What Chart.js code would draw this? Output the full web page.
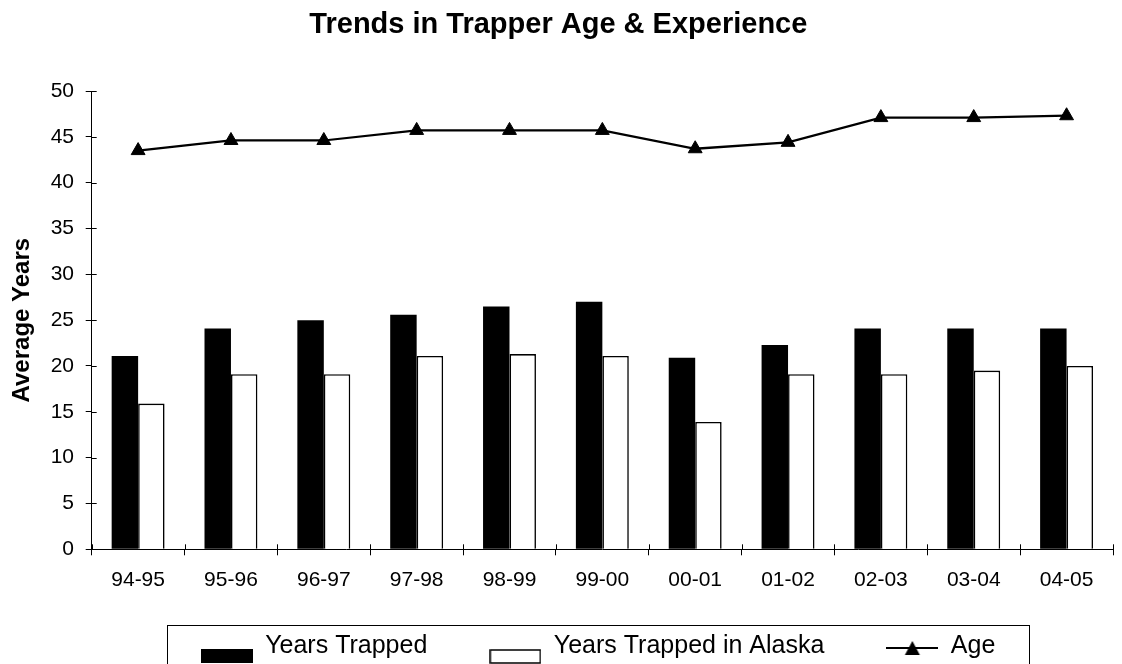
<!DOCTYPE html>
<html>
<head>
<meta charset="utf-8">
<script src="https://cdn.jsdelivr.net/npm/chart.js@4.4.1/dist/chart.umd.min.js"></script>
<style>
  html, body { margin: 0; padding: 0; background: #fff; overflow: hidden; }
  #frame { width: 1122px; height: 664px; overflow: hidden; }
  #wrap { width: 1122px; height: 702px; }
</style>
</head>
<body>
<div id="frame"><div id="wrap"><canvas id="chart"></canvas></div></div>
<script>
// ---- data ----
const seasons = ['94-95', '95-96', '96-97', '97-98', '98-99', '99-00', '00-01', '01-02', '02-03', '03-04', '04-05'];
const yearsTrapped = [21.1, 24.1, 25.0, 25.6, 26.5, 27.0, 20.9, 22.3, 24.1, 24.1, 24.1];
const yearsTrappedAlaska = [15.9, 19.1, 19.1, 21.1, 21.3, 21.1, 13.9, 19.1, 19.1, 19.5, 20.0];
const trapperAge = [43.5, 44.6, 44.6, 45.7, 45.7, 45.7, 43.7, 44.4, 47.1, 47.1, 47.3];
const yMax = 50;
const yStep = 5;

const FONT = "'Liberation Sans', Arial, sans-serif";
const LEGEND_FONT = 25;
const LEGEND_GAP = 62;
const LEGEND_CENTER = 598;   // the Excel legend sits a bit right of the page centre
const LEGEND_DROP = 22.2;    // legend top, measured from the x axis line

// legend icons (Excel style: swatch sits low, beside the text baseline)
function makeIcon(kind) {
  const c = document.createElement('canvas');
  c.width = 52; c.height = 40;
  const g = c.getContext('2d');
  if (kind === 'solid') {
    g.fillStyle = '#000';
    g.fillRect(0, 23, 52, 14);
  } else if (kind === 'hollow') {
    g.fillStyle = '#fff';
    g.strokeStyle = '#000';
    g.lineWidth = 1.5;
    g.fillRect(1, 24, 50, 13);
    g.strokeRect(1, 24, 50, 13);
  } else {
    g.strokeStyle = '#000';
    g.lineWidth = 2;
    g.beginPath(); g.moveTo(0, 22); g.lineTo(52, 22); g.stroke();
    g.fillStyle = '#000';
    g.beginPath(); g.moveTo(26, 15); g.lineTo(33.5, 29); g.lineTo(18.5, 29); g.closePath(); g.fill();
  }
  return c;
}
const icons = {
  'Years Trapped': makeIcon('solid'),
  'Years Trapped in Alaska': makeIcon('hollow'),
  'Age': makeIcon('line')
};

// move the legend block (it overlaps the empty band under the axis labels) and frame it
const legendBox = {
  id: 'legendBox',
  afterLayout(chart) {
    const lg = chart.legend;
    const shift = LEGEND_CENTER - (lg.left + lg.right) / 2;
    lg.left += shift;
    lg.right += shift;
    lg.top = chart.chartArea.bottom + LEGEND_DROP;
    lg.bottom = lg.top + lg.height;
  },
  afterDraw(chart) {
    const lg = chart.legend;
    const p = LEGEND_GAP;
    const start = (lg.left + p + lg.right - lg.lineWidths[0]) / 2;
    const end = start + lg.lineWidths[0] - p;
    const left = Math.round(start - 34) + 0.5;
    const right = Math.round(end + 34) + 0.5;
    const top = Math.round(lg.top + p - 8.5) + 0.5;
    const ctx = chart.ctx;
    ctx.save();
    ctx.strokeStyle = '#000';
    ctx.lineWidth = 1;
    ctx.strokeRect(left, top, right - left, 80);
    ctx.restore();
  }
};

// Excel tick marks cross the axis line; add the inner half
const crossTicks = {
  id: 'crossTicks',
  afterDraw(chart) {
    const { ctx, chartArea, scales } = chart;
    ctx.save();
    ctx.strokeStyle = '#000';
    ctx.lineWidth = 1;
    ctx.beginPath();
    scales.y.ticks.forEach((t, i) => {
      const y = Math.round(scales.y.getPixelForTick(i)) + 0.5;
      ctx.moveTo(chartArea.left, y);
      ctx.lineTo(chartArea.left + 5, y);
    });
    for (let i = 0; i <= seasons.length; i++) {
      const x = Math.round(scales.x.getPixelForValue(i - 0.5)) + 0.5;
      ctx.moveTo(x, chartArea.bottom);
      ctx.lineTo(x, chartArea.bottom - 5);
    }
    ctx.stroke();
    ctx.restore();
  }
};

const ctx = document.getElementById('chart').getContext('2d');
new Chart(ctx, {
  type: 'bar',
  data: {
    labels: seasons,
    datasets: [
      {
        type: 'line',
        label: 'Age',
        data: trapperAge,
        borderColor: '#000',
        backgroundColor: '#000',
        borderWidth: 2.25,
        pointStyle: 'triangle',
        pointRadius: 8,
        pointHoverRadius: 8,
        pointBorderWidth: 1,
        tension: 0,
        order: 0
      },
      {
        label: 'Years Trapped',
        data: yearsTrapped,
        backgroundColor: '#000',
        borderColor: '#000',
        borderWidth: 0,
        categoryPercentage: 0.57,
        barPercentage: 1.0,
        order: 1
      },
      {
        label: 'Years Trapped in Alaska',
        data: yearsTrappedAlaska,
        backgroundColor: '#fff',
        borderColor: '#000',
        borderWidth: 1.6,
        categoryPercentage: 0.57,
        barPercentage: 1.0,
        order: 1
      }
    ]
  },
  options: {
    responsive: true,
    maintainAspectRatio: false,
    animation: false,
    layout: { padding: { left: 0, right: 5.3, top: 0, bottom: 0.5 } },
    plugins: {
      title: {
        display: true,
        text: 'Trends in Trapper Age & Experience',
        color: '#000',
        font: { family: FONT, size: 29, weight: 'bold' },
        padding: { top: 7.3, bottom: 48.9 }
      },
      legend: {
        position: 'bottom',
        labels: {
          color: '#000',
          font: { family: FONT, size: LEGEND_FONT },
          usePointStyle: true,
          boxHeight: 25,
          pointStyleWidth: 52,
          padding: LEGEND_GAP,
          sort: (a, b) => {
            const rank = { 'Years Trapped': 0, 'Years Trapped in Alaska': 1, 'Age': 2 };
            return rank[a.text] - rank[b.text];
          },
          generateLabels(chart) {
            return chart.data.datasets.map((ds, i) => ({
              text: ds.label,
              datasetIndex: i,
              fillStyle: ds.backgroundColor,
              strokeStyle: '#000',
              lineWidth: 0,
              pointStyle: icons[ds.label],
              fontColor: '#000',
              hidden: false
            }));
          }
        }
      },
      tooltip: { enabled: false }
    },
    scales: {
      x: {
        grid: { display: true, drawOnChartArea: false, drawTicks: true, tickLength: 6, color: '#000', offset: true },
        border: { display: true, color: '#000', width: 1 },
        ticks: { color: '#000', font: { family: FONT, size: 21 }, padding: 12, maxRotation: 0 }
      },
      y: {
        min: 0,
        max: yMax,
        afterFit(scale) { scale.width = 91.7; },
        grid: { display: true, drawOnChartArea: false, drawTicks: true, tickLength: 6, color: '#000' },
        border: { display: true, color: '#000', width: 1 },
        ticks: { stepSize: yStep, color: '#000', font: { family: FONT, size: 21 }, padding: 11.7 },
        title: {
          display: true,
          text: 'Average Years',
          color: '#000',
          font: { family: FONT, size: 24, weight: 'bold' },
          padding: { top: 7.6, bottom: 0 }
        }
      }
    }
  },
  plugins: [legendBox, crossTicks]
});
</script>
</body>
</html>
